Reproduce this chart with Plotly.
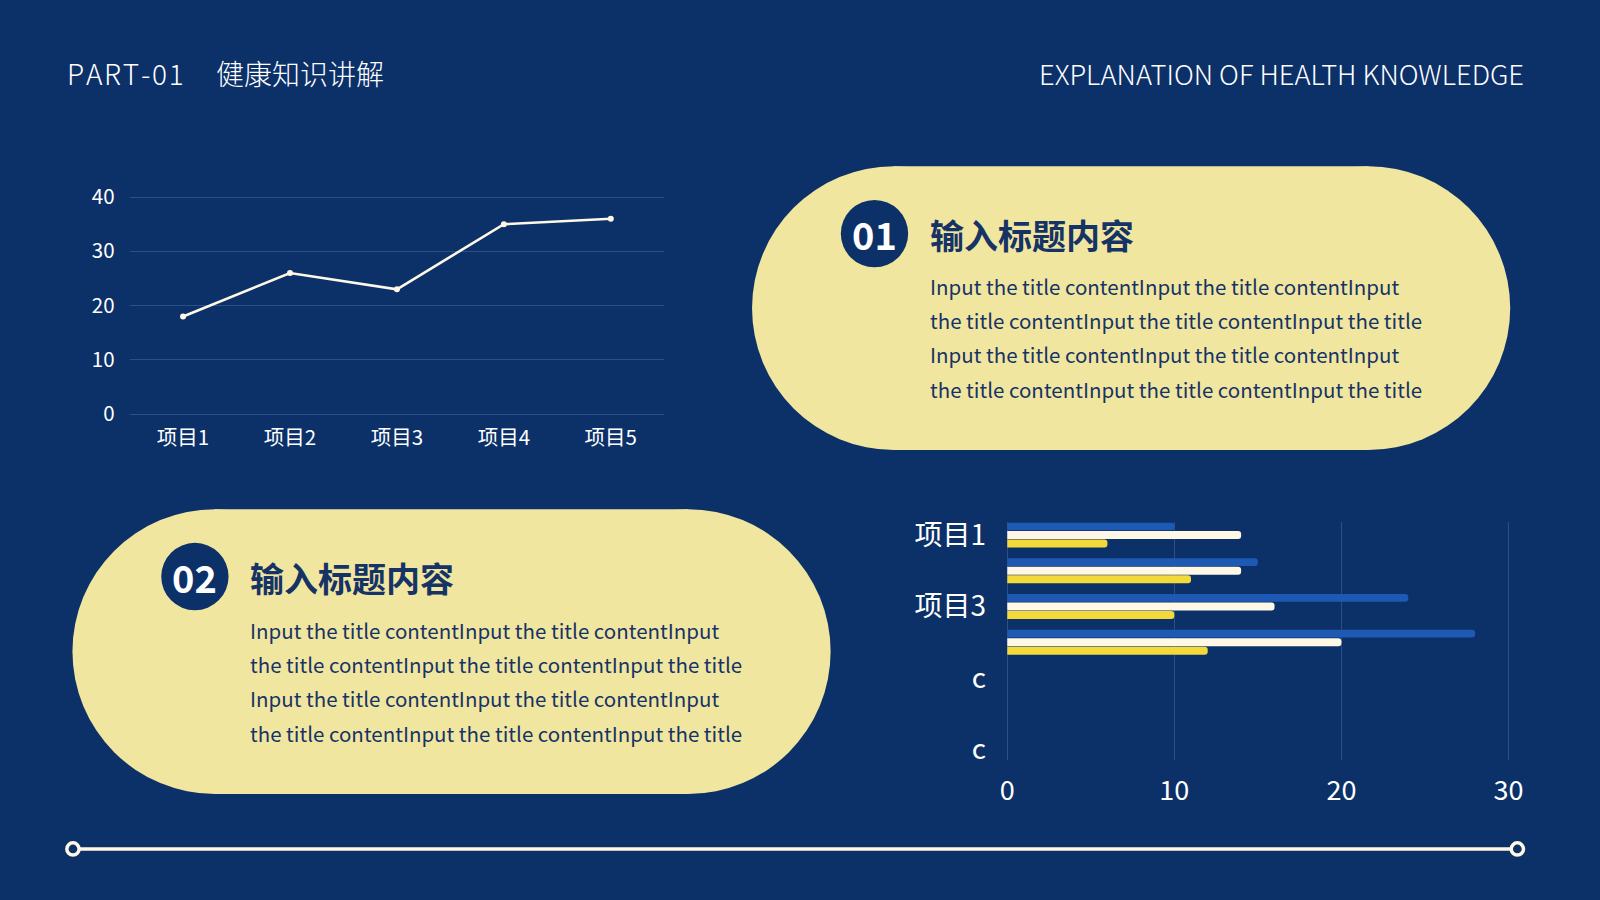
import plotly.graph_objects as go

# reference was laid out at 1568 x 882, output is 1600 x 900
W_REF, H_REF = 1568, 882

def px(x):
    return x / W_REF

def py(y):
    return 1 - y / H_REF

NAVY = "#0C3068"
PILL = "#F0E6A0"
CREAM = "#FFF8E6"
TEXT_DARK = "#163366"
FONT = "Noto Sans CJK SC"

# line chart data
line_items = ["项目1", "项目2", "项目3", "项目4", "项目5"]
line_values = [18, 26, 23, 35, 36]

# bar chart data
bar_pos = [0, 1, 2, 3]
bar_blue = [10, 15, 24, 28]
bar_white = [14, 14, 16, 20]
bar_yellow = [6, 11, 10, 12]
bar_tickvals = [0, 2, 4, 6]
bar_ticktext = ["项目1", "项目3", "c", "c"]

header_left = "PART-01"
header_cn = "健康知识讲解"
header_right = "EXPLANATION OF HEALTH KNOWLEDGE"
card_title = "输入标题内容"
body_lines = [
    "Input the title contentInput the title contentInput",
    "the title contentInput the title contentInput the title",
    "Input the title contentInput the title contentInput",
    "the title contentInput the title contentInput the title",
]

fig = go.Figure()

fig.add_trace(go.Scatter(
    x=line_items, y=line_values, mode="lines+markers",
    line=dict(color=CREAM, width=2.6),
    marker=dict(color=CREAM, size=6),
    xaxis="x", yaxis="y", showlegend=False, hoverinfo="skip",
))

for vals, col in [(bar_blue, "#1E5AB4"), (bar_white, CREAM), (bar_yellow, "#F4D93A")]:
    fig.add_trace(go.Bar(
        x=vals, y=bar_pos, orientation="h",
        marker=dict(color=col, cornerradius=4, line=dict(width=0)),
        xaxis="x2", yaxis="y2", showlegend=False, hoverinfo="skip",
    ))

shapes = []
annotations = []

def pill(x0, y0, x1, y1):
    r = (y1 - y0) / 2
    shapes.append(dict(type="circle", xref="paper", yref="paper",
                       x0=px(x0), x1=px(x0 + 2 * r), y0=py(y1), y1=py(y0),
                       fillcolor=PILL, line=dict(width=0), layer="below"))
    shapes.append(dict(type="circle", xref="paper", yref="paper",
                       x0=px(x1 - 2 * r), x1=px(x1), y0=py(y1), y1=py(y0),
                       fillcolor=PILL, line=dict(width=0), layer="below"))
    shapes.append(dict(type="rect", xref="paper", yref="paper",
                       x0=px(x0 + r), x1=px(x1 - r), y0=py(y1), y1=py(y0),
                       fillcolor=PILL, line=dict(width=0), layer="below"))

def card(num, cx, cy, tx, ty, body_y):
    rr = 33
    shapes.append(dict(type="circle", xref="paper", yref="paper",
                       x0=px(cx - rr), x1=px(cx + rr), y0=py(cy + rr), y1=py(cy - rr),
                       fillcolor=NAVY, line=dict(width=0), layer="below"))
    annotations.append(dict(x=px(cx), y=py(cy), text="<b>%s</b>" % num, showarrow=False,
                            xref="paper", yref="paper", xanchor="center", yanchor="middle",
                            font=dict(family=FONT, size=38, color="white")))
    annotations.append(dict(x=px(tx), y=py(ty), text="<b>%s</b>" % card_title, showarrow=False,
                            xref="paper", yref="paper", xanchor="left", yanchor="middle",
                            font=dict(family=FONT, size=34, color=TEXT_DARK)))
    for i, ln in enumerate(body_lines):
        annotations.append(dict(x=px(tx), y=py(body_y + i * 33.7), text=ln, showarrow=False,
                                xref="paper", yref="paper", xanchor="left", yanchor="middle",
                                font=dict(family=FONT, size=20.5, color=TEXT_DARK)))

pill(737, 163, 1480, 441)
pill(71, 499, 814, 778)
card("01", 857, 229, 909, 230, 280)
card("02", 191, 565, 243, 566, 617)

# header, PART-01 is set with a little tracking
tracked = "\u200a".join(header_left)
annotations.append(dict(x=px(64), y=py(72), text=tracked, showarrow=False,
                        xref="paper", yref="paper", xanchor="left", yanchor="middle",
                        font=dict(family=FONT, size=28, color="white", weight=300)))
annotations.append(dict(x=px(210), y=py(72), text=header_cn, showarrow=False,
                        xref="paper", yref="paper", xanchor="left", yanchor="middle",
                        font=dict(family=FONT, size=28, color="white", weight=300)))
annotations.append(dict(x=px(1495), y=py(72), text=header_right, showarrow=False,
                        xref="paper", yref="paper", xanchor="right", yanchor="middle",
                        font=dict(family=FONT, size=27.3, color="white", weight=300)))

# bottom timeline
shapes.append(dict(type="line", xref="paper", yref="paper",
                   x0=px(71), x1=px(1487), y0=py(832), y1=py(832),
                   line=dict(color=CREAM, width=3.5)))
for cx in (71.5, 1487):
    shapes.append(dict(type="circle", xref="paper", yref="paper",
                       x0=px(cx - 6), x1=px(cx + 6), y0=py(838), y1=py(826),
                       fillcolor=NAVY, line=dict(color=CREAM, width=3.5)))

grid = "#2C4F84"

fig.update_layout(
    width=1600, height=900,
    margin=dict(l=0, r=0, t=0, b=0),
    paper_bgcolor=NAVY, plot_bgcolor=NAVY,
    barmode="group", bargap=0.28, bargroupgap=0.08,
    shapes=shapes, annotations=annotations,
    xaxis=dict(domain=[px(127), px(651)], range=[-0.5, 4.5], showgrid=False,
               zeroline=False, showline=False, ticks="", automargin=False,
               tickfont=dict(family=FONT, size=20.5, color="white"),
               ticklabelstandoff=8),
    yaxis=dict(domain=[py(407), py(192)], range=[-0.2, 40.2], tickvals=[0, 10, 20, 30, 40],
               gridcolor=grid, gridwidth=1, zeroline=False, showline=False, ticks="",
               automargin=False,
               tickfont=dict(family=FONT, size=20.5, color="white"),
               ticklabelstandoff=14),
    xaxis2=dict(domain=[px(987), px(1480)], range=[0, 30.1], tickvals=[0, 10, 20, 30],
                anchor="y2", gridcolor=grid, gridwidth=1, zeroline=True,
                zerolinecolor=grid, zerolinewidth=1, showline=False, ticks="",
                automargin=False,
                tickfont=dict(family=FONT, size=27, color="white"),
                ticklabelstandoff=12),
    yaxis2=dict(domain=[py(745), py(512)], range=[6.3, -0.35], anchor="x2",
                tickvals=bar_tickvals, ticktext=bar_ticktext, showgrid=False,
                zeroline=False, showline=False, ticks="", automargin=False,
                tickfont=dict(family=FONT, size=28, color="white"),
                ticklabelstandoff=20),
)

# drop the default page margin so the figure fills the window
fig.write_html("out.html", config={"displayModeBar": False},
               post_script="document.body.style.margin='0';")
